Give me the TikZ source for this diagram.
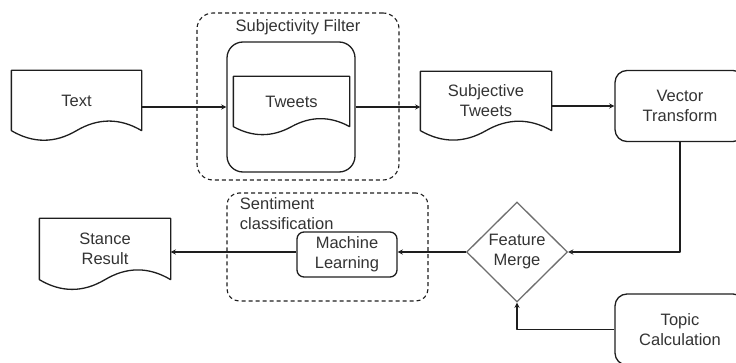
\documentclass[tikz,border=0pt]{standalone}
\usepackage{fontspec}
\setmainfont{Liberation Sans}
\usetikzlibrary{shapes.geometric,calc}
\definecolor{txtgray}{HTML}{333333}
\definecolor{linegray}{HTML}{1E1E1E}
\definecolor{diagray}{HTML}{6E6E6E}

% document outline with wavy bottom round a node
\newcommand{\docline}[1]{%
\draw[line] let \p1=(#1.north west), \p2=(#1.south east), \n1={\y1-\y2}, \n2={\x2-\x1} in
  (\p1) -- (\x2,\y1) -- (\p2)
  .. controls ({\x1+5*\n2/6},{\y2+0.212*\n1}) and ({\x1+2*\n2/3},{\y2+0.212*\n1}) .. ({\x1+\n2/2},\y2)
  .. controls ({\x1+\n2/3},{\y2-0.212*\n1}) and ({\x1+\n2/6},{\y2-0.212*\n1}) .. (\x1,\y2) -- cycle;}

\begin{document}
\begin{tikzpicture}[x=1pt,y=-1pt,line width=1.3pt,font=\fontsize{16.5}{20}\selectfont,text=txtgray,
  doc/.style={inner sep=0pt,align=center},
  box/.style={draw=linegray,rounded corners=12pt,inner sep=0pt,align=center},
  group/.style={draw=linegray,dash pattern=on 4pt off 3pt,line width=1.1pt,rounded corners=16pt,inner sep=0pt},
  line/.style={draw=linegray,line join=round},
  arr/.style={line,-stealth}]
\useasboundingbox (0,0) rectangle (736,363);
\clip (0,0) rectangle (736,363);

%groups
\node[group,minimum width=202pt,minimum height=167pt] (sfgroup) at (298,96.5) {};
\node (sflabel) at (298,27) {Subjectivity Filter};
\node[group,rounded corners=12pt,minimum width=201pt,minimum height=108pt] (scgroup) at (327.5,247) {};
\node[anchor=west,align=left] (sclabel) at (236,214) {Sentiment\\classification};

%top row
\node[doc,minimum width=129pt,minimum height=59pt] (textdoc) at (76.5,100.5) {Text};
\node[box,rounded corners=16pt,minimum width=128pt,minimum height=130pt] (sfbox) at (291,107) {};
\node[doc,minimum width=115pt,minimum height=49pt] (tweets) at (291.5,101.5) {Tweets};
\node[doc,minimum width=130pt,minimum height=58pt] (subj) at (486,101) {Subjective\\Tweets};
\node[box,minimum width=130pt,minimum height=71pt] (vector) at (680,106) {Vector\\Transform};

%bottom row
\node[diamond,draw=diagray,minimum width=101pt,minimum height=100pt,inner sep=0pt,align=center] (merge) at (517,252) {Feature\\Merge};
\node[box,rounded corners=7pt,minimum width=100pt,minimum height=45pt] (ml) at (347,254.5) {Machine\\Learning};
\node[doc,minimum width=130pt,minimum height=60pt] (stance) at (105,249) {Stance\\Result};
\node[box,minimum width=130pt,minimum height=71pt] (topic) at (680,329.5) {Topic\\Calculation};

\docline{textdoc}
\docline{tweets}
\docline{subj}
\docline{stance}

%arrows
\draw[arr] (textdoc.east |- sfbox) -- (sfbox);
\draw[arr] (sfbox.east) -- (sfbox.east -| subj.west);
\draw[arr] (subj.east |- vector) -- (vector);
\draw[arr] (vector) |- (merge);
\draw[arr] (topic) -| (merge);
\draw[arr] (merge) -- (merge -| ml.east);
\draw[arr] (ml.west |- merge) -- (stance.east |- merge);
\end{tikzpicture}
\end{document}
